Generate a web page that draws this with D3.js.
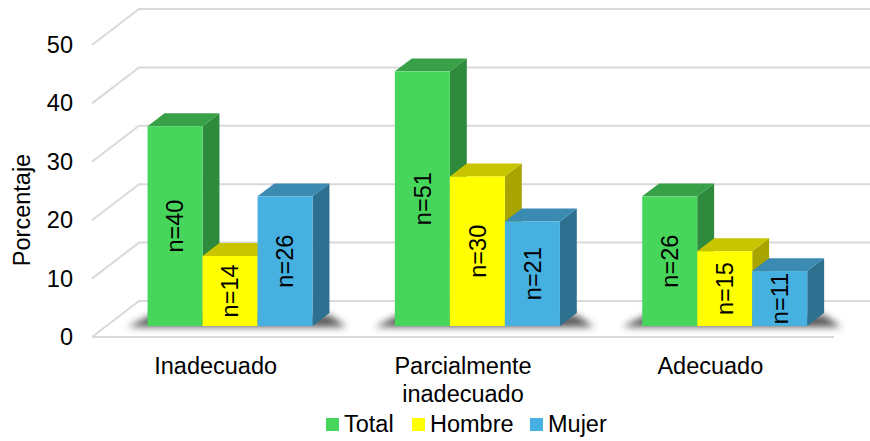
<!DOCTYPE html>
<html>
<head>
<meta charset="utf-8">
<script src="https://cdn.jsdelivr.net/npm/d3@7"></script>
<style>
  body { margin: 0; background: #fff; }
  svg text { font-family: "Liberation Sans", Arial, sans-serif; fill: #000; }
</style>
</head>
<body>
<script>
var width = 870, height = 441;

// data (percent of n=117)
var categories = ["Inadecuado", "Parcialmente inadecuado", "Adecuado"];
var series = ["Total", "Hombre", "Mujer"];
var totalPct = [34.2, 43.6, 22.2];
var hombrePct = [12.0, 25.6, 12.8];
var mujerPct = [22.2, 17.9, 9.4];
var totalN = [40, 51, 26];
var hombreN = [14, 30, 15];
var mujerN = [26, 21, 11];
var yTicks = [0, 10, 20, 30, 40, 50];

var colors = {
  Total:  {front: "#48d55c", top: "#38a046", side: "#2e8a3c"},
  Hombre: {front: "#ffff00", top: "#c8c400", side: "#a8a400"},
  Mujer:  {front: "#46b0e0", top: "#3a8ab2", side: "#2e7090"}
};

var fontSize = 23.5;
var depthX = 47, depthY = 36;     // full depth of the 3d box
var barFront = 0.306, barDepth = 0.36;

var x = d3.scaleBand().domain(categories).range([92, 834]);
var xs = d3.scaleBand().domain(series).range([-82.5, 82.5]);
var y = d3.scaleLinear().domain([0, 50]).range([337, 45]);

var svg = d3.select("body").append("svg")
  .attr("width", width)
  .attr("height", height);

var defs = svg.append("defs");
defs.append("filter").attr("id", "blur")
  .attr("x", "-50%").attr("y", "-100%").attr("width", "200%").attr("height", "300%")
  .append("feGaussianBlur").attr("stdDeviation", 3.5);

// gridlines: left wall diagonal + back wall
var grid = svg.append("g");
yTicks.forEach(function(t) {
  var x0 = x.range()[0], yf = y(t);
  grid.append("path")
    .attr("d", "M" + x0 + "," + yf + "L" + (x0 + depthX) + "," + (yf - depthY) + "L" + (x.range()[1] + depthX) + "," + (yf - depthY))
    .attr("fill", "none")
    .attr("stroke", "#d9d9d9")
    .attr("stroke-width", 2);
});
// floor front edge
grid.append("line")
  .attr("x1", x.range()[0]).attr("x2", x.range()[1])
  .attr("y1", y(0)).attr("y2", y(0))
  .attr("stroke", "#d9d9d9").attr("stroke-width", 2);

// bars
var rows = [];
categories.forEach(function(c, i) {
  rows.push({cat: c, s: "Total", v: totalPct[i], n: totalN[i]});
  rows.push({cat: c, s: "Hombre", v: hombrePct[i], n: hombreN[i]});
  rows.push({cat: c, s: "Mujer", v: mujerPct[i], n: mujerN[i]});
});

var bdx = barDepth * depthX, bdy = barDepth * depthY;
var offX = barFront * depthX, offY = barFront * depthY;

// soft shadows under each group
categories.forEach(function(c) {
  var gx0 = x(c) + x.bandwidth() / 2 + offX + xs.range()[0];
  var gx1 = x(c) + x.bandwidth() / 2 + offX + xs.range()[1];
  var yb = y(0) - offY;
  svg.append("path")
    .attr("d", "M" + (gx0 - 20) + "," + (yb + 1) + "L" + (gx1 + 34) + "," + (yb + 1) +
      "L" + (gx1 + bdx) + "," + (yb - bdy + 2) + "L" + (gx0 + 4) + "," + (yb - bdy + 2) + "Z")
    .attr("fill", "#333")
    .attr("opacity", 0.8)
    .attr("filter", "url(#blur)");
});

var bars = svg.selectAll(".bar").data(rows).enter().append("g").attr("class", "bar");

bars.each(function(d) {
  var g = d3.select(this);
  var x0 = x(d.cat) + x.bandwidth() / 2 + offX + xs(d.s);
  var x1 = x0 + xs.bandwidth();
  var yb = y(0) - offY;
  var yt = y(d.v) - offY;
  var col = colors[d.s];
  // side
  g.append("path")
    .attr("d", "M" + x1 + "," + yt + "L" + (x1 + bdx) + "," + (yt - bdy) + "L" + (x1 + bdx) + "," + (yb - bdy) + "L" + x1 + "," + yb + "Z")
    .attr("fill", col.side);
  // top
  g.append("path")
    .attr("d", "M" + x0 + "," + yt + "L" + (x0 + bdx) + "," + (yt - bdy) + "L" + (x1 + bdx) + "," + (yt - bdy) + "L" + x1 + "," + yt + "Z")
    .attr("fill", col.top);
  // front
  g.append("rect")
    .attr("x", x0).attr("y", yt)
    .attr("width", x1 - x0).attr("height", yb - yt)
    .attr("fill", col.front);
  // label
  g.append("text")
    .attr("transform", "translate(" + ((x0 + x1) / 2) + "," + ((yt + yb) / 2) + ") rotate(-90)")
    .attr("text-anchor", "middle")
    .attr("dy", "0.35em")
    .style("font-size", fontSize + "px")
    .text("n=" + d.n);
});

// y axis
var yAxis = svg.append("g")
  .attr("transform", "translate(73,0)")
  .call(d3.axisLeft(y).tickValues(yTicks).tickSize(0).tickPadding(0));
yAxis.select(".domain").remove();
yAxis.selectAll("text")
  .style("font-size", fontSize + "px")
  .style("font-family", "'Liberation Sans', Arial, sans-serif")
  .attr("fill", "#000");

svg.append("text")
  .attr("transform", "translate(30,210) rotate(-90)")
  .attr("text-anchor", "middle")
  .style("font-size", fontSize + "px")
  .text("Porcentaje");

// category labels
var catLines = {
  "Inadecuado": ["Inadecuado"],
  "Parcialmente inadecuado": ["Parcialmente", "inadecuado"],
  "Adecuado": ["Adecuado"]
};
categories.forEach(function(c) {
  var t = svg.append("text")
    .attr("x", x(c) + x.bandwidth() / 2)
    .attr("y", 374)
    .attr("text-anchor", "middle")
    .style("font-size", fontSize + "px");
  catLines[c].forEach(function(line, i) {
    t.append("tspan")
      .attr("x", x(c) + x.bandwidth() / 2)
      .attr("dy", i === 0 ? 0 : 28)
      .text(line);
  });
});

// legend
var legendX = [326, 412, 530];
var legend = svg.selectAll(".legend").data(series).enter().append("g")
  .attr("class", "legend")
  .attr("transform", function(d, i) { return "translate(" + legendX[i] + ",418)"; });
legend.append("rect")
  .attr("width", 13).attr("height", 13)
  .attr("fill", function(d) { return colors[d].front; });
legend.append("text")
  .attr("x", 18).attr("y", 14)
  .style("font-size", fontSize + "px")
  .text(function(d) { return d; });
</script>
</body>
</html>
